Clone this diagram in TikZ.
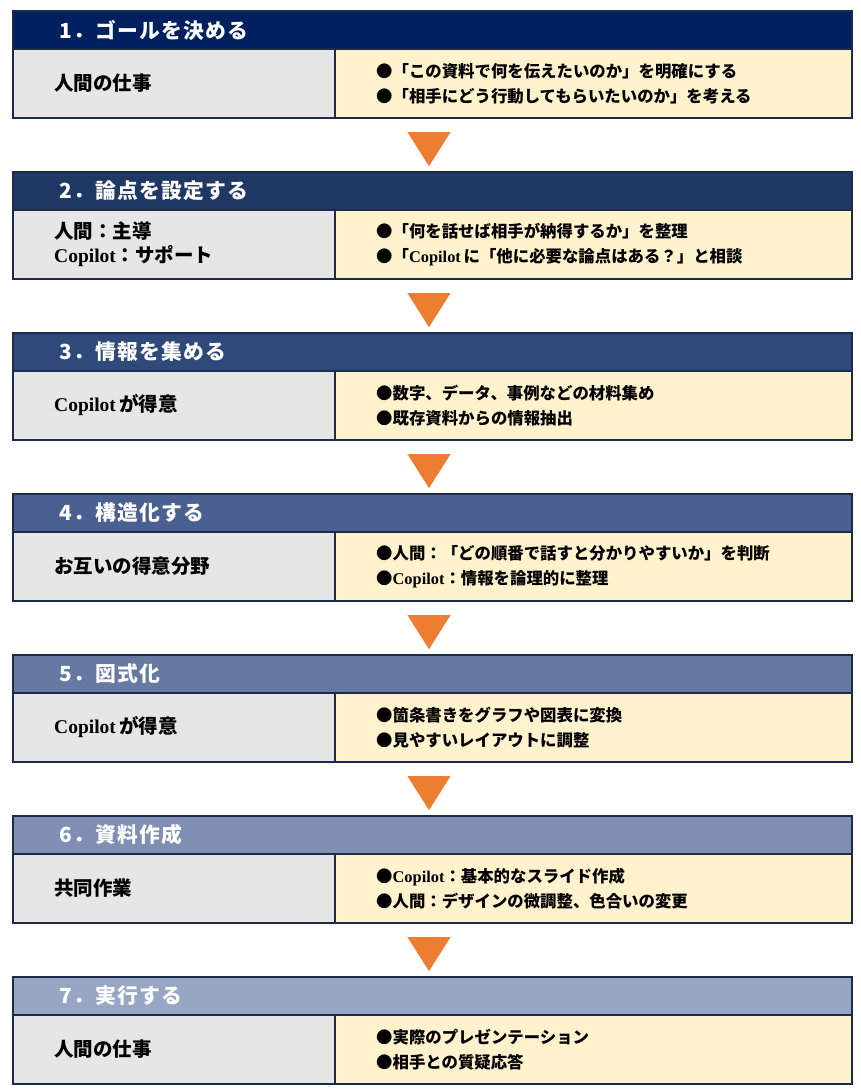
\documentclass[tikz,border=0pt]{standalone}
\usepackage{fontspec}
\setmainfont{Noto Sans CJK JP}
\newfontfamily\latin{Liberation Serif}
\newfontfamily\headfont[LetterSpace=6]{Noto Sans CJK JP}
\usetikzlibrary{positioning, shapes.geometric}

\definecolor{head1}{HTML}{002060}
\definecolor{head2}{HTML}{1F3864}
\definecolor{head3}{HTML}{2F4A7A}
\definecolor{head4}{HTML}{4A6090}
\definecolor{head5}{HTML}{6579A2}
\definecolor{head6}{HTML}{7F8FB3}
\definecolor{head7}{HTML}{97A6C2}
\definecolor{frame}{HTML}{1C2B4A}
\definecolor{whobg}{HTML}{E7E6E6}
\definecolor{whatbg}{HTML}{FFF2CC}
\definecolor{flowc}{HTML}{ED7D31}

\newcommand{\copi}{{\latin Copilot}}

\tikzset{
  headbox/.style={draw=frame, line width=2pt, minimum width=839pt, minimum height=38pt, anchor=north west, inner sep=0pt},
  whobox/.style={draw=frame, line width=2pt, fill=whobg, minimum width=322pt, minimum height=69pt, anchor=north west, inner sep=0pt},
  whatbox/.style={draw=frame, line width=2pt, fill=whatbg, minimum width=517pt, minimum height=69pt, anchor=north west, inner sep=0pt},
  headtext/.style={text=white, font=\headfont\bfseries\fontsize{20.8pt}{24pt}\selectfont, inner sep=0pt},
  whotext/.style={font=\bfseries\fontsize{19.5pt}{24pt}\selectfont, align=left, inner sep=0pt},
  whattext/.style={font=\bfseries\fontsize{16.4pt}{25pt}\selectfont, align=left, inner sep=0pt},
  flow/.style={isosceles triangle, isosceles triangle stretches, shape border rotate=270, fill=flowc, minimum width=43pt, minimum height=34pt, inner sep=0pt}
}

\begin{document}
\begin{tikzpicture}[x=1pt, y=-1pt]
  \useasboundingbox (0,0) rectangle (861,1092);

  \foreach \n/\title/\who/\what in {
      1/{1．ゴールを決める}/{人間の仕事}/{●「この資料で何を伝えたいのか」を明確にする\\●「相手にどう行動してもらいたいのか」を考える},
      2/{2．論点を設定する}/{人間：主導\\\copi：サポート}/{●「何を話せば相手が納得するか」を整理\\●「\copi\,に「他に必要な論点はある？」と相談},
      3/{3．情報を集める}/{\copi\,が得意}/{●数字、データ、事例などの材料集め\\●既存資料からの情報抽出},
      4/{4．構造化する}/{お互いの得意分野}/{●人間：「どの順番で話すと分かりやすいか」を判断\\●\copi：情報を論理的に整理},
      5/{5．図式化}/{\copi\,が得意}/{●箇条書きをグラフや図表に変換\\●見やすいレイアウトに調整},
      6/{6．資料作成}/{共同作業}/{●\copi：基本的なスライド作成\\●人間：デザインの微調整、色合いの変更},
      7/{7．実行する}/{人間の仕事}/{●実際のプレゼンテーション\\●相手との質疑応答}} {
    \pgfmathsetmacro\ytop{10+161*(\n-1)}
    % header bar and the two body cells
    \node[headbox, fill=head\n] (head\n) at (12,\ytop) {};
    \node[whobox] (who\n) at (12,\ytop+38) {};
    \node[whatbox] (what\n) at (334,\ytop+38) {};
    \node[headtext, right=47pt of head\n.west] (title\n) {\title};
    \node[whotext, right=42pt of who\n.west] (whotxt\n) {\who};
    \node[whattext, right=42pt of what\n.west] (whattxt\n) {\what};
    % arrow down to the next step
    \ifnum\n<7
      \node[flow] (flow\n) at (429,\ytop+134) {};
    \fi
  }
\end{tikzpicture}
\end{document}
